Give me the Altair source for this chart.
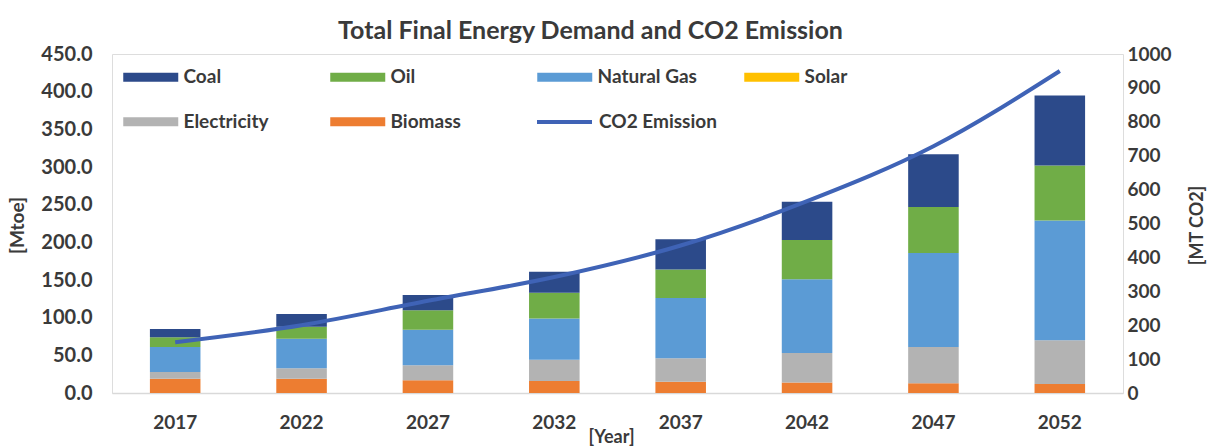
import altair as alt
import pandas as pd

years = ["2017", "2022", "2027", "2032", "2037", "2042", "2047", "2052"]
biomass = [19, 19, 17, 16, 15, 14, 13, 12]
electricity = [9, 14, 20, 28, 31, 39, 48, 58]
solar = [0, 0, 0, 0, 0, 0, 0, 0]
natural_gas = [33, 39, 47, 55, 80, 98, 125, 159]
oil = [13, 16, 26, 34, 38, 52, 61, 73]
coal = [11, 17, 20, 28, 40, 51, 70, 93]
co2 = [150, 200, 272, 342, 435, 566, 728, 950]

legend_order = ["Coal", "Oil", "Natural Gas", "Solar", "Electricity", "Biomass"]
colors = ["#2C4A8A", "#70AD47", "#5B9BD5", "#FFC000", "#B3B3B3", "#ED7D31"]
stack_rank = {"Biomass": 0, "Electricity": 1, "Solar": 2, "Natural Gas": 3, "Oil": 4, "Coal": 5}
line_name = "CO2 Emission"

series = {
    "Biomass": biomass,
    "Electricity": electricity,
    "Solar": solar,
    "Natural Gas": natural_gas,
    "Oil": oil,
    "Coal": coal,
}
rows = []
for name, vals in series.items():
    for y, v in zip(years, vals):
        rows.append({"Year": y, "Source": name, "Value": v, "rank": stack_rank[name]})
bars_df = pd.DataFrame(rows)
line_df = pd.DataFrame({"Year": years, "CO2": co2, "Series": [line_name] * len(years)})

FONT = "Lato"
TXT = "#3A3A3A"
LINE_COLOR = "#3F63B6"
RECT = "M-1,-0.32H3V0.32H-1Z"

x_enc = alt.X(
    "Year:N",
    sort=years,
    scale=alt.Scale(paddingInner=0.6, paddingOuter=0.3),
    axis=alt.Axis(
        title="[Year]", labelAngle=0, ticks=False, domainColor="#D9D9D9", domainWidth=1.5,
        labelPadding=20, labelFont=FONT, labelFontSize=19, labelFontWeight="bold", labelColor=TXT,
        titleFont=FONT, titleFontSize=18, titleFontWeight="bold", titleColor=TXT,
        titleX=499, titleY=44, titleBaseline="middle", titleAlign="center",
    ),
)

bars = alt.Chart(bars_df).mark_bar(stroke=None).encode(
    x=x_enc,
    y=alt.Y(
        "Value:Q",
        stack="zero",
        scale=alt.Scale(domain=[0, 450], nice=False),
        axis=alt.Axis(
            title="[Mtoe]", values=list(range(0, 451, 50)), format=".1f", grid=False, domain=False,
            ticks=False, labelPadding=20, labelFont=FONT, labelFontSize=20, labelFontWeight="bold",
            labelColor=TXT, titleFont=FONT, titleFontSize=19, titleFontWeight="bold", titleColor=TXT,
            titleX=-95, titleY=171, titleAngle=270, titleBaseline="middle", titleAlign="center",
        ),
    ),
    color=alt.Color(
        "Source:N",
        scale=alt.Scale(domain=legend_order, range=colors),
        legend=alt.Legend(
            title=None, orient="none", legendX=11, legendY=9.25, direction="horizontal", columns=4,
            gridAlign="all", columnPadding=47, rowPadding=20.5, padding=0,
            symbolType=RECT, symbolSize=756.25, symbolStrokeWidth=0, labelOffset=32.5,
            labelFont=FONT, labelFontSize=19, labelFontWeight="bold", labelColor=TXT, labelLimit=300,
        ),
    ),
    order=alt.Order("rank:Q", sort="ascending"),
)

line = alt.Chart(line_df).mark_line(strokeWidth=4, interpolate="monotone").encode(
    x=alt.X("Year:N", sort=years),
    y=alt.Y(
        "CO2:Q",
        scale=alt.Scale(domain=[0, 1000], nice=False),
        axis=alt.Axis(
            orient="right", title="[MT CO2]", values=list(range(0, 1001, 100)), format="d",
            grid=False, domain=False, ticks=False, labelPadding=4, labelFont=FONT, labelFontSize=19,
            labelFontWeight="bold", labelColor=TXT, titleFont=FONT, titleFontSize=18,
            titleFontWeight="bold", titleColor=TXT, titleX=74, titleY=171, titleAngle=270,
            titleBaseline="middle", titleAlign="center",
        ),
    ),
    color=alt.Color(
        "Series:N",
        scale=alt.Scale(domain=[line_name], range=[LINE_COLOR]),
        legend=alt.Legend(
            title=None, orient="none", legendX=423, legendY=38.5, padding=0,
            symbolType="stroke", symbolSize=3025, symbolStrokeWidth=4, labelOffset=5,
            labelFont=FONT, labelFontSize=19, labelFontWeight="bold", labelColor=TXT, labelLimit=300,
        ),
    ),
)

chart = (
    alt.layer(bars, line)
    .resolve_scale(y="independent", color="independent")
    .properties(
        width=1011,
        height=339,
        autosize=alt.AutoSizeParams(type="none"),
        padding={"left": 112, "top": 54, "right": 91, "bottom": 53},
        title=alt.TitleParams(
            "Total Final Energy Demand and CO2 Emission", font=FONT, fontSize=25, fontWeight="bold",
            color=TXT, anchor="middle", offset=0, dx=-27,
        ),
    )
    .configure_view(stroke=None)
    .configure(background="white")
)

chart.save("out.html", embed_options={"renderer": "svg", "actions": False})
